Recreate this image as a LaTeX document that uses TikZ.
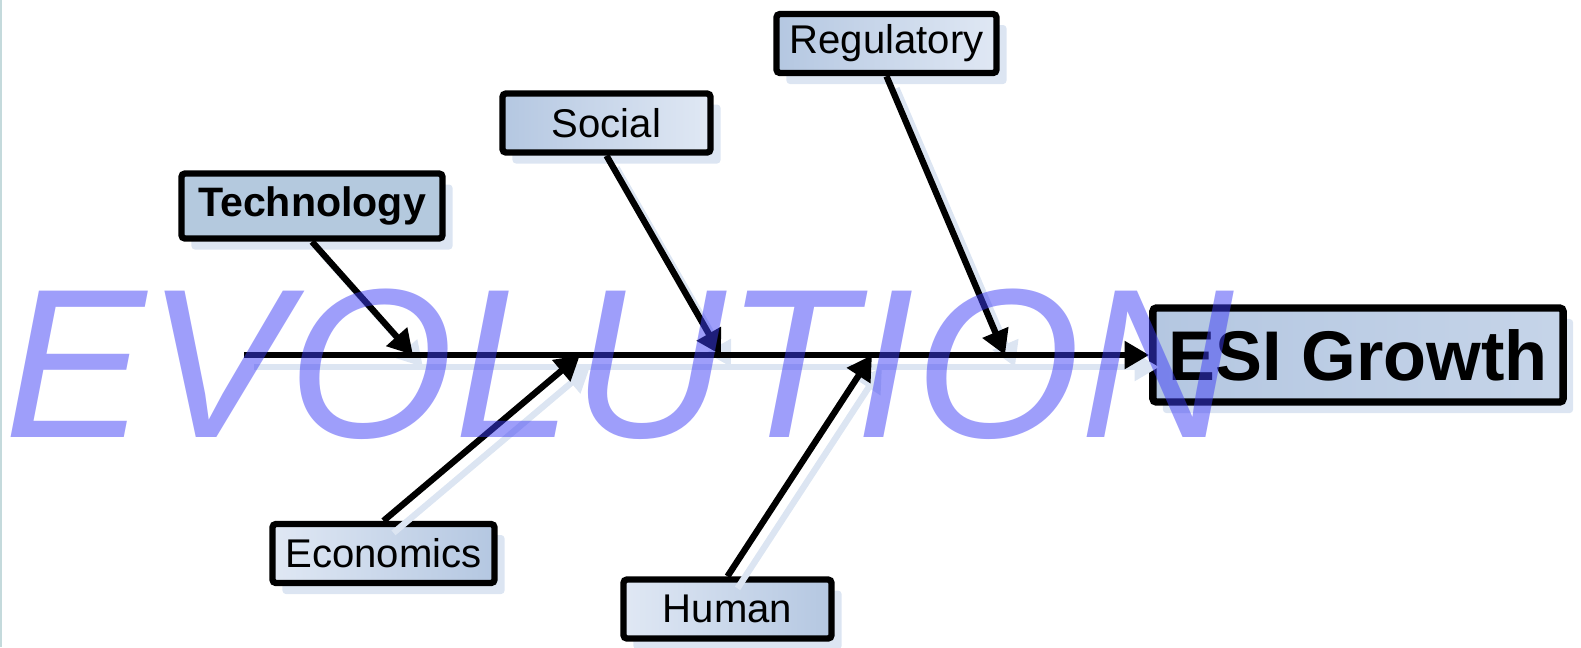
\documentclass[tikz,border=0pt]{standalone}
\usepackage{fontspec}
\setmainfont{Liberation Sans}
\usetikzlibrary{arrows.meta,shadows}

\definecolor{boxdark}{RGB}{180,199,225}
\definecolor{boxlight}{RGB}{224,232,244}
\definecolor{techblue}{RGB}{180,201,222}
\definecolor{shadowblue}{RGB}{220,229,242}
\definecolor{markblue}{RGB}{61,61,245}
\definecolor{edgegrey}{RGB}{196,218,220}

\begin{document}
\begin{tikzpicture}[%
    x=0.01cm,
    y=-0.01cm,
    >={Triangle[length=7pt,width=7.6pt]},
    causebox/.style={%
      draw,
      line width=1.8pt,
      rounded corners=1pt,
      minimum width=#1,
      minimum height=0.59cm,
      inner sep=0pt,
      font=\fontsize{11.4}{13}\selectfont,
      drop shadow={shadow xshift=0.1cm,shadow yshift=-0.11cm,fill=shadowblue,opacity=1}
    },
    upbox/.style={causebox=#1,left color=boxdark,right color=boxlight},
    downbox/.style={causebox=#1,left color=boxlight,right color=boxdark},
    bone/.style={->,line width=1.8pt},
    boneshadow/.style={->,line width=1.8pt,draw=shadowblue}
  ]
    \useasboundingbox (0,0) rectangle (1581,647);
    \draw[edgegrey,line width=0.6pt] (1,0) -- (1,647);

    % cause boxes
    \node[causebox=2.61cm,fill=techblue,
          minimum height=0.65cm,font=\fontsize{11.7}{13}\selectfont\bfseries]
          (tech)   at (312,206)   {Technology};
    \node[upbox=2.08cm]   (social) at (606.5,123) {Social};
    \node[upbox=2.20cm]   (reg)    at (886.5,43.5) {Regulatory};
    \node[downbox=2.22cm] (econ)   at (383.5,553.5) {Economics};
    \node[downbox=2.08cm] (human)  at (727.5,609) {Human};
    \node[causebox=4.10cm,minimum height=0.94cm,line width=2.1pt,
          left color=boxdark,right color=boxdark!60!boxlight,
          font=\fontsize{20}{24}\selectfont\bfseries]
          (esi)    at (1358,355)  {ESI Growth};

    % spine and bones
    \coordinate (tail) at (244,355);
    \coordinate (tA) at (413,355);
    \coordinate (sA) at (721,355);
    \coordinate (rA) at (1005,355);
    \coordinate (eA) at (580,355);
    \coordinate (hA) at (872,355);

    \foreach \from/\to in {tail/esi.west,tech.south/tA,social.south/sA,reg.south/rA,econ.north/eA,human.north/hA}
      \draw[boneshadow] ([shift={(10,12)}]\from) -- ([shift={(10,12)}]\to);
    \foreach \from/\to in {tail/esi.west,tech.south/tA,social.south/sA,reg.south/rA,econ.north/eA,human.north/hA}
      \draw[bone] (\from) -- (\to);

    % watermark
    \node[anchor=base west,inner sep=0pt,text=markblue,opacity=0.5,
          font=\fontsize{60.5}{70}\selectfont\itshape]
          (mark) at (4,437) {EVOLUTION};
\end{tikzpicture}
\end{document}
